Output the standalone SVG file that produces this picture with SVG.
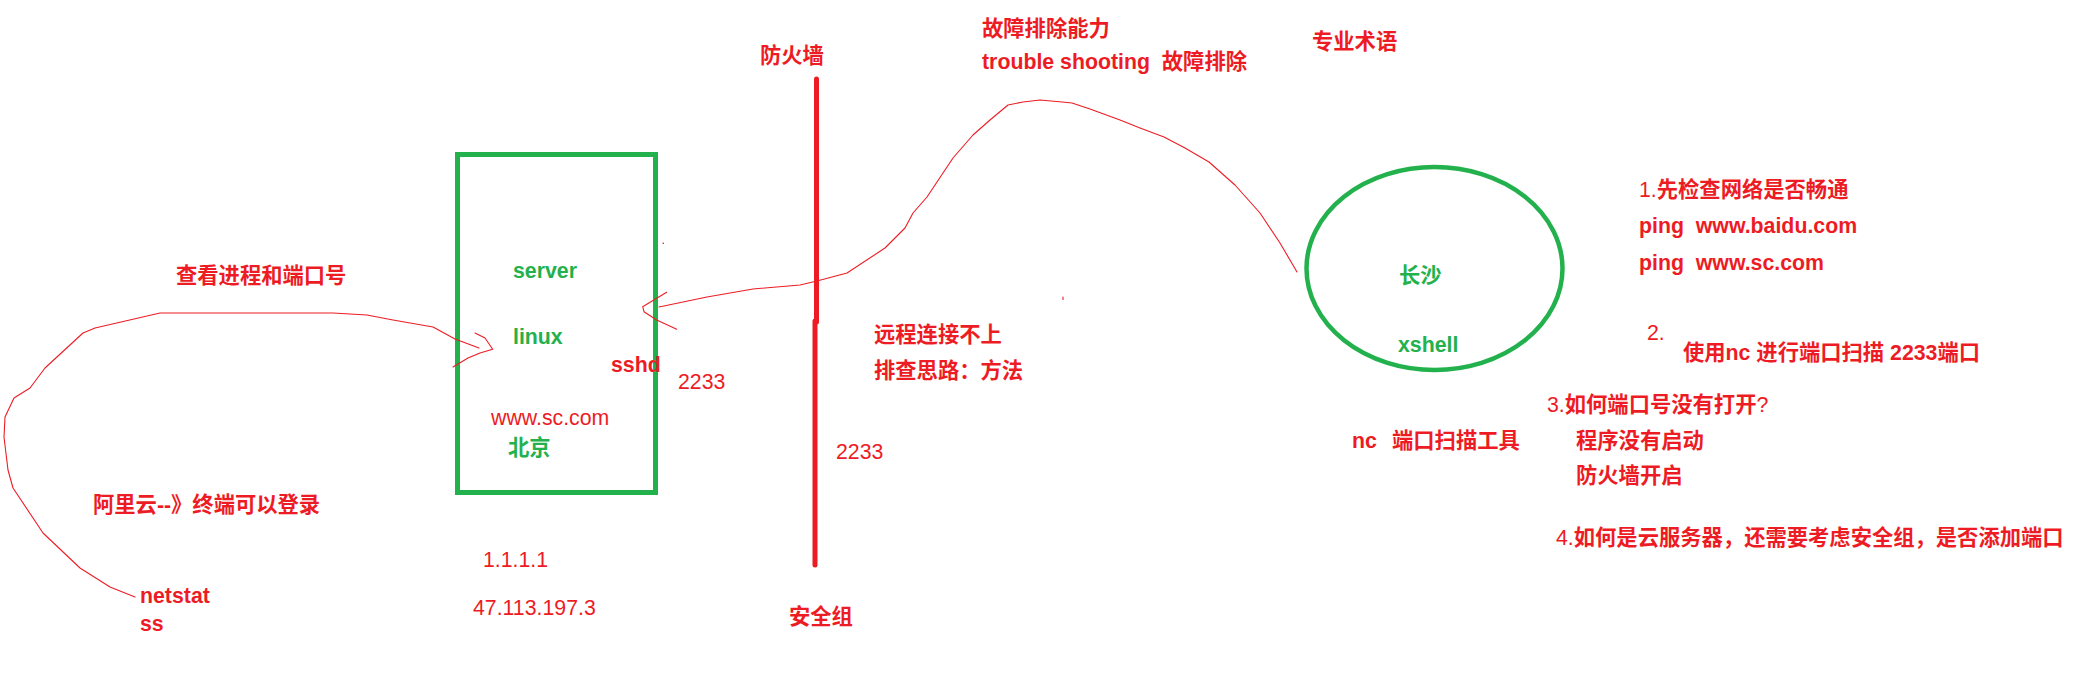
<svg xmlns="http://www.w3.org/2000/svg" width="2088" height="678" viewBox="0 0 2088 678">
<style>
text{font-family:"Liberation Sans","Noto Sans CJK SC",sans-serif;font-size:21.3px;font-weight:bold;fill:#ED1C24}
.g{fill:#22B14C}
.n{font-weight:normal}
.conn{fill:none;stroke:#ED1C24;stroke-width:1.1;stroke-linejoin:round;stroke-linecap:round}
</style>
<rect width="2088" height="678" fill="#fff"/>
<g id="server">
<rect x="457.5" y="154.5" width="198" height="338" fill="none" stroke="#22B14C" stroke-width="5"/>
<text x="513" y="278" class="g">server</text>
<text x="513" y="344" class="g">linux</text>
<text x="611" y="372">sshd</text>
<text x="678" y="389" class="n">2233</text>
<text x="491" y="425" class="n">www.sc.com</text>
<text x="508" y="455" class="g">北京</text>
</g>
<g id="server-notes">
<text x="176" y="283">查看进程和端口号</text>
<text x="93" y="512">阿里云--》终端可以登录</text>
<text x="140" y="603">netstat</text>
<text x="140" y="631">ss</text>
<text x="483" y="567" class="n">1.1.1.1</text>
<text x="473" y="615" class="n">47.113.197.3</text>
</g>
<g id="firewall">
<line x1="816.5" y1="79" x2="816.5" y2="322" stroke="#ED1C24" stroke-width="5" stroke-linecap="round"/>
<line x1="815" y1="321" x2="815" y2="565" stroke="#ED1C24" stroke-width="5" stroke-linecap="round"/>
<text x="760" y="63">防火墙</text>
<text x="789" y="624">安全组</text>
<text x="836" y="459" class="n">2233</text>
</g>
<g id="troubleshoot">
<text x="982" y="36">故障排除能力</text>
<text x="982" y="69" xml:space="preserve">trouble shooting  故障排除</text>
<text x="1312" y="49">专业术语</text>
<text x="874" y="342">远程连接不上</text>
<text x="874" y="378">排查思路：方法</text>
</g>
<g id="client">
<ellipse cx="1434.5" cy="268.5" rx="128" ry="101.5" fill="none" stroke="#22B14C" stroke-width="4.5"/>
<text x="1399" y="283" class="g">长沙</text>
<text x="1398" y="352" class="g">xshell</text>
<text x="1352" y="448">nc<tspan x="1392">端口扫描工具</tspan></text>
</g>
<g id="steps">
<text x="1639" y="197"><tspan class="n">1.</tspan>先检查网络是否畅通</text>
<text x="1639" y="233" xml:space="preserve">ping  www.baidu.com</text>
<text x="1639" y="270" xml:space="preserve">ping  www.sc.com</text>
<text x="1647" y="340" class="n">2.</text>
<text x="1683" y="360">使用nc 进行端口扫描 2233端口</text>
<text x="1547" y="412"><tspan class="n">3.</tspan>如何端口号没有打开<tspan class="n">?</tspan></text>
<text x="1576" y="448">程序没有启动</text>
<text x="1576" y="483">防火墙开启</text>
<text x="1556" y="545"><tspan class="n">4.</tspan>如何是云服务器，还需要考虑安全组，是否添加端口</text>
</g>
<g id="connectors">
<path class="conn" d="M1297,272 L1280,243 L1260,213 L1235,185 L1209,162 L1185,148 L1164,137 L1140,128 L1120,120 L1090,109 L1072,103 L1062,102 L1040,100 L1023,102 L1008,105 L990,120 L973,135 L953,158 L927,197 L913,213 L905,228 L885,248 L847,273 L817,281 L800,285 L753,289 L707,297 L659,307"/>
<path class="conn" d="M666.7,292.3 L656.7,298.3 L642.7,306.7 L644,311.7 L656.7,320 L676.7,329.3"/>
<path class="conn" d="M135,597 L110,587 L80,568 L43,533 L13,488 L8,470 L4,437 L5,417 L14,398 L30,388 L45,368 L83,333 L95,328 L160,313 L333,313 L367,315 L393,320 L433,327 L455,339 L479,348"/>
<path class="conn" d="M475,333 L485,338 L492.7,349.3 L480,353 L468,358 L453,367"/>
<path class="conn" d="M1063,297 L1063,299.5"/>
<path class="conn" d="M663,243 L663.5,243.5"/>
</g>
</svg>
